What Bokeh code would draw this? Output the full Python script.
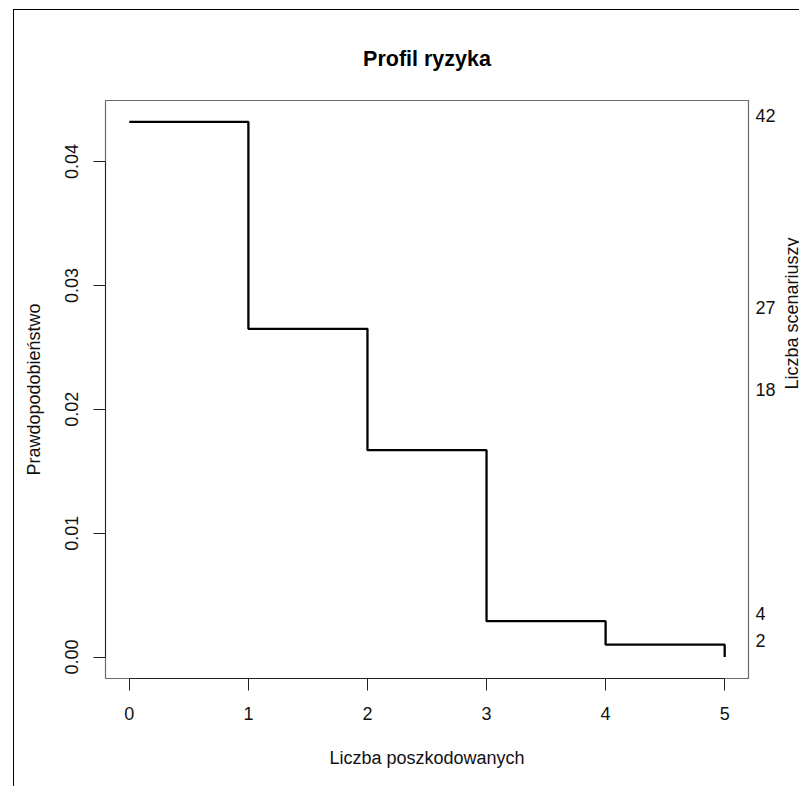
import math
from bokeh.plotting import figure
from bokeh.models import Range1d, LinearAxis, FixedTicker
from bokeh.embed import file_html
from bokeh.resources import INLINE

# ---- data ----
injured = [0, 1, 2, 3, 4, 5]
probability = [0.0432, 0.0265, 0.0167, 0.0029, 0.0010, 0.0]
x_ticks = [0, 1, 2, 3, 4, 5]
y_ticks = [0.00, 0.01, 0.02, 0.03, 0.04]
y_tick_labels = ["0.00", "0.01", "0.02", "0.03", "0.04"]
scenario_counts = [42, 27, 18, 4, 2]
scenario_label_pos = [0.0437, 0.0282, 0.0216, 0.00355, 0.00137]

title_text = "Profil ryzyka"
x_label = "Liczba poszkodowanych"
y_label = "Prawdopodobieństwo"
right_label = "Liczba scenariuszy"

FONT = "Liberation Sans"
FS = "18px"

# R-like 4% range expansion
xlo, xhi = min(injured), max(injured)
ylo, yhi = min(probability), max(probability)
xpad = 0.04 * (xhi - xlo)
ypad = 0.04 * (yhi - ylo)

p = figure(frame_width=643, frame_height=578, output_backend="svg", toolbar_location=None,
           x_range=Range1d(xlo - xpad, xhi + xpad),
           y_range=Range1d(ylo - ypad, yhi + ypad),
           x_axis_location=None, y_axis_location=None,
           min_border_left=91, min_border_right=52,
           min_border_top=90, min_border_bottom=109)
# outer frame of the picture; the right part is cut off by the window as in the reference
p.styles = {"border-left": "1.5px solid #000", "border-top": "1.5px solid #000",
            "margin-left": "13px", "margin-top": "9px",
            "max-width": "786px", "max-height": "777px", "overflow": "hidden"}
for g in p.grid:
    g.visible = False
p.outline_line_color = "#6a6a6a"
p.outline_line_width = 1.2
p.background_fill_color = "white"
p.border_fill_color = "white"

# title
p.title.text = title_text
p.title.align = "center"
p.title.text_font = FONT
p.title.text_font_size = "21.5px"
p.title.text_font_style = "bold"
p.title.text_color = "black"
p.title.standoff = 59

def style_axis(ax):
    ax.major_label_text_font = FONT
    ax.major_label_text_font_size = FS
    ax.major_label_text_color = "#111111"
    ax.axis_label_text_font = FONT
    ax.axis_label_text_font_size = FS
    ax.axis_label_text_font_style = "normal"
    ax.axis_label_text_color = "#111111"
    ax.minor_tick_line_color = None
    ax.major_tick_in = 0

xaxis = LinearAxis(ticker=FixedTicker(ticks=x_ticks), bounds=(x_ticks[0], x_ticks[-1]),
                   axis_label=x_label)
style_axis(xaxis)
xaxis.major_tick_out = 12
xaxis.major_label_standoff = 16
xaxis.axis_label_standoff = 25
xaxis.axis_line_color = "#222222"
xaxis.major_tick_line_color = "#222222"
p.add_layout(xaxis, "below")

yaxis = LinearAxis(ticker=FixedTicker(ticks=y_ticks), bounds=(y_ticks[0], y_ticks[-1]),
                   axis_label=y_label,
                   major_label_overrides={t: s for t, s in zip(y_ticks, y_tick_labels)})
style_axis(yaxis)
yaxis.major_tick_out = 12
yaxis.major_label_orientation = "vertical"
yaxis.major_label_standoff = 15
yaxis.axis_label_standoff = 19
yaxis.axis_line_color = "#222222"
yaxis.major_tick_line_color = "#222222"
p.add_layout(yaxis, "left")

raxis = LinearAxis(ticker=FixedTicker(ticks=scenario_label_pos),
                   axis_label=right_label,
                   major_label_overrides={t: str(c) for t, c in zip(scenario_label_pos, scenario_counts)})
style_axis(raxis)
raxis.axis_line_color = None
raxis.major_tick_line_color = None
raxis.major_tick_out = 0
raxis.major_label_standoff = 7
raxis.axis_label_standoff = 13
raxis.axis_label_orientation = math.pi / 2
p.add_layout(raxis, "right")

p.step(injured, probability, mode="after", line_color="black", line_width=2.3)

open("out.html", "w").write(file_html(p, INLINE))
